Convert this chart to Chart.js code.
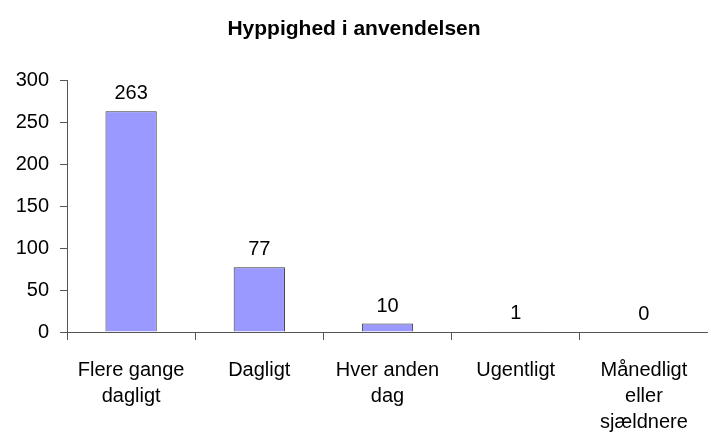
<!DOCTYPE html>
<html>
<head>
<meta charset="utf-8">
<script src="https://cdn.jsdelivr.net/npm/chart.js@4/dist/chart.umd.min.js"></script>
<style>
  body { margin: 0; background: #fff; }
  #wrap { width: 708px; height: 434px; }
</style>
</head>
<body>
<div id="wrap"><canvas id="myChart"></canvas></div>
<script>
// data
const categories = [
    ['Flere gange', 'dagligt'],
    'Dagligt',
    ['Hver anden', 'dag'],
    'Ugentligt',
    ['Månedligt', 'eller', 'sjældnere']
];
const counts = [263, 77, 10, 1, 0];
const yTicks = [0, 50, 100, 150, 200, 250, 300];

const fontFamily = '"Liberation Sans", Arial, sans-serif';

// draws the value above each bar
const valueLabels = {
    id: 'valueLabels',
    afterDatasetsDraw(chart) {
        const ctx = chart.ctx;
        const meta = chart.getDatasetMeta(0);
        ctx.save();
        ctx.font = '20px ' + fontFamily;
        ctx.fillStyle = '#000';
        ctx.textAlign = 'center';
        ctx.textBaseline = 'alphabetic';
        meta.data.forEach(function(bar, i) {
            ctx.fillText(String(counts[i]), bar.x, bar.y - 12);
        });
        ctx.restore();
    }
};

const ctx = document.getElementById('myChart').getContext('2d');
const myChart = new Chart(ctx, {
    type: 'bar',
    data: {
        labels: categories,
        datasets: [{
            label: '',
            data: counts,
            backgroundColor: '#9999ff',
            borderColor: '#333333',
            borderWidth: 1,
            barPercentage: 0.4,
            categoryPercentage: 1.0
        }]
    },
    options: {
        responsive: true,
        maintainAspectRatio: false,
        animation: false,
        layout: {
            padding: { left: 0, right: 0, top: 0, bottom: 0 }
        },
        plugins: {
            legend: { display: false },
            tooltip: { enabled: false },
            title: {
                display: true,
                text: 'Hyppighed i anvendelsen',
                color: '#000',
                font: { family: fontFamily, size: 21, weight: 'bold' },
                padding: { top: 17, bottom: 38 }
            }
        },
        scales: {
            x: {
                grid: {
                    drawOnChartArea: false,
                    drawTicks: true,
                    tickLength: 8,
                    color: '#555'
                },
                border: { color: '#555', width: 1 },
                ticks: {
                    color: '#000',
                    maxRotation: 0,
                    autoSkip: false,
                    padding: 18,
                    font: { family: fontFamily, size: 20, lineHeight: 1.28 }
                },
                afterFit(scale) { scale.height = 102; }
            },
            y: {
                min: 0,
                max: 300,
                afterBuildTicks(scale) {
                    scale.ticks = yTicks.map(v => ({ value: v }));
                },
                grid: {
                    drawOnChartArea: false,
                    drawTicks: true,
                    tickLength: 7,
                    color: '#555'
                },
                border: { color: '#555', width: 1 },
                ticks: {
                    color: '#000',
                    padding: 11,
                    font: { family: fontFamily, size: 20 }
                },
                afterFit(scale) { scale.width = 67; }
            }
        }
    },
    plugins: [valueLabels]
});
</script>
</body>
</html>
